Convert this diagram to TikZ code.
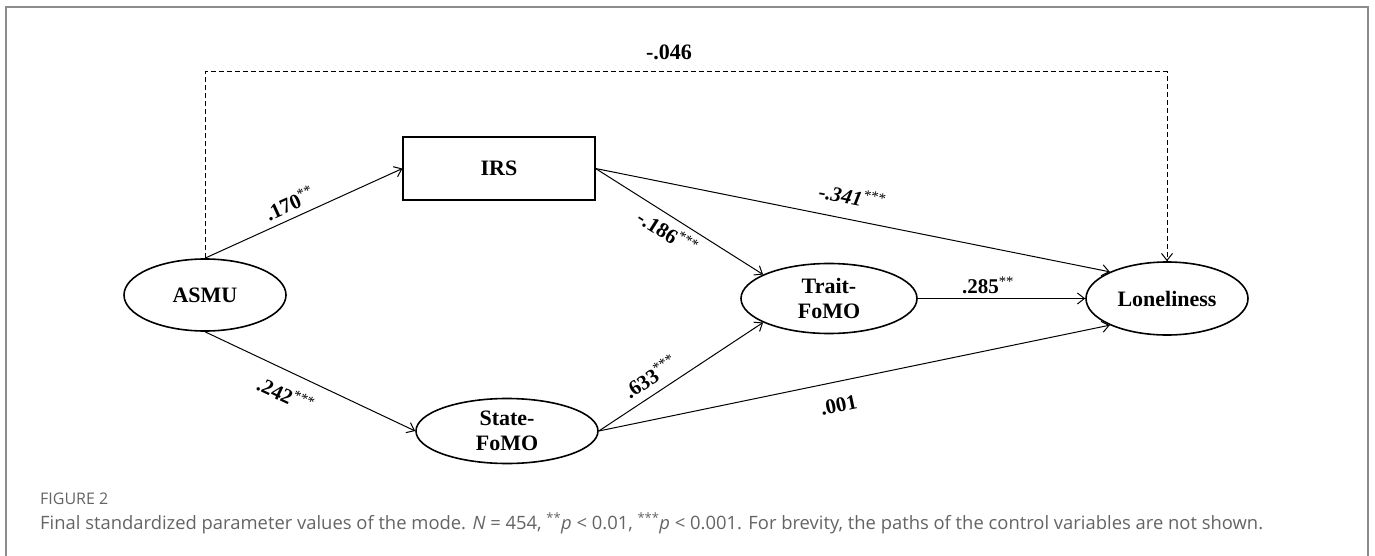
\documentclass[tikz,border=0pt]{standalone}
\usepackage{fontspec}
\setmainfont{Liberation Serif}
\newfontfamily\legfont{Open Sans}
\usepackage{tikz}
\usetikzlibrary{arrows.meta,positioning,shapes.geometric,calc}
\definecolor{cadre}{RGB}{140,140,140}
\definecolor{legende}{RGB}{100,100,100}
\newcommand{\sig}[1]{\textsuperscript{\mdseries#1}}

\begin{document}
\begin{tikzpicture}[x=1pt,y=1pt,font=\fontsize{22}{25}\selectfont\bfseries,
	latent/.style={ellipse,draw,line width=1.6pt,inner sep=0pt,align=center},
	observe/.style={draw,line width=1.1pt,inner sep=0pt},
	fleche/.style={line width=1pt,-{Straight Barb[length=7pt,width=11pt]}},
	coef/.style={font=\fontsize{21}{24}\selectfont\bfseries,sloped,inner sep=2pt}]
	\useasboundingbox (0,0) rectangle (1375,555);
	\draw[cadre,line width=1.8pt] (6,-5) -- (6,548) -- (1368,548) -- (1368,-5);
	% variables
	\node[latent,minimum width=162pt,minimum height=72pt] (asmu) at (205,260) {ASMU};
	\node[observe,minimum width=192pt,minimum height=63pt] (irs) at (499,386.5) {IRS};
	\node[latent,minimum width=182pt,minimum height=65pt] (state) at (507,124) {State-\\FoMO};
	\node[latent,minimum width=176pt,minimum height=70pt] (trait) at (829,256.5) {Trait-\\FoMO};
	\node[latent,minimum width=162pt,minimum height=73pt] (lonely) at (1167,256.5) {Loneliness};
	% chemins
	\coordinate (haut) at (0,483);
	\draw[fleche,dash pattern=on 5pt off 3pt] (asmu.north) -- (asmu.north |- haut) -| (lonely.north);
	\node (direct) at (669,503) {-.046};
	\draw[fleche] (asmu.north) -- node[coef,above=4pt,pos=0.46]{.170\sig{**}} (irs.west);
	\draw[fleche] (asmu.south) -- node[coef,below=11pt,pos=0.43]{.242\sig{***}} (state.west);
	\draw[fleche] (irs.east) -- node[coef,below=4pt,pos=0.48]{-.186\sig{***}} (trait.160);
	\draw[fleche] (irs.east) -- node[coef,above=12pt,pos=0.49]{\itshape -.341\sig{***}} (lonely.155);
	\draw[fleche] (state.east) -- node[coef,above=6pt,pos=0.37]{.633\sig{***}} (trait.200);
	\draw[fleche] (state.east) -- node[coef,below=14pt,pos=0.46]{.001} (lonely.205);
	\draw[fleche] (trait.east) -- node[coef,above=2pt,pos=0.42]{.285\sig{**}} (lonely.west);
	% legende
	\node[anchor=base west,inner sep=0pt,text=legende,font=\legfont\fontsize{16}{18}\selectfont] (fig) at (40,51) {FIGURE 2};
	\node[anchor=base west,inner sep=0pt,text=legende,font=\legfont\fontsize{18.4}{21}\selectfont] (texte) at (40,26) {Final standardized parameter values of the mode. \textit{N} = 454, \textsuperscript{**}\textit{p} < 0.01, \textsuperscript{***}\textit{p} < 0.001. For brevity, the paths of the control variables are not shown.};
\end{tikzpicture}
\end{document}
